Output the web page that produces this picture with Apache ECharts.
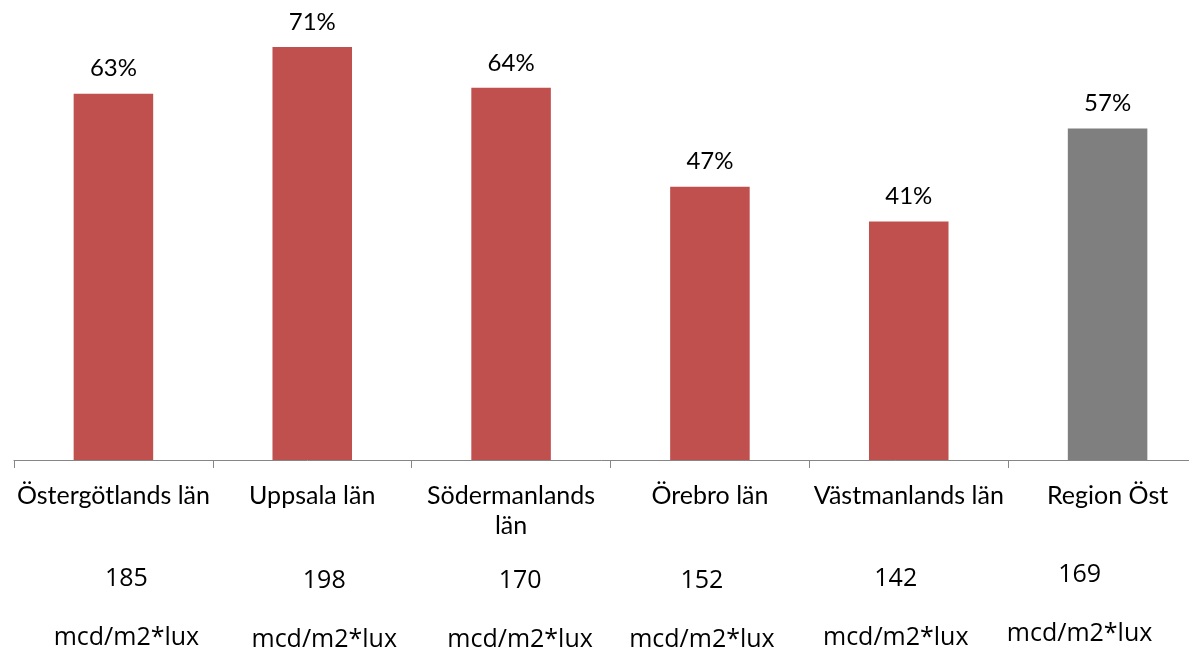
<!DOCTYPE html>
<html>
<head>
    <meta charset="utf-8">
    <title>Andel och luminans per län</title>
    <script src="https://cdn.jsdelivr.net/npm/echarts@6/dist/echarts.min.js"></script>
    <style>
        html, body { margin: 0; padding: 0; background: #fff; }
        #main { width: 1189px; height: 652px; }
    </style>
</head>
<body>
    <div id="main"></div>
    <script type="text/javascript">
        // data
        var categories = ['Östergötlands län', 'Uppsala län', 'Södermanlands\nlän', 'Örebro län', 'Västmanlands län', 'Region Öst'];
        var shares = [63, 71, 64, 47, 41, 57];          // %
        var luminance = [185, 198, 170, 152, 142, 169];  // mcd/m2*lux
        var unitText = 'mcd/m2*lux';

        // layout of the text rows under the axis (free text boxes in the original)
        var rowShiftX = [13, 12, 9, -8, -13, -28];
        var rowShiftY = [0, 2, 2, 2, 0, -4];
        var numberRowY = 579;
        var unitRowY = 638;

        var barColors = ['#C0504D', '#C0504D', '#C0504D', '#C0504D', '#C0504D', '#7F7F7F'];

        var chart = echarts.init(document.getElementById('main'));
        chart.setOption({
            animation: false,
            grid: {
                left: 14, right: -18, top: 0, bottom: 192,
                containLabel: false,
                outerBoundsMode: 'none'
            },
            xAxis: {
                type: 'category',
                data: categories,
                axisLine: { lineStyle: { color: '#868686', width: 1 } },
                axisTick: { show: true, length: 8, lineStyle: { color: '#868686' } },
                axisLabel: {
                    interval: 0,
                    margin: 21,
                    color: '#000',
                    fontFamily: 'Lato',
                    fontSize: 25,
                    lineHeight: 30
                }
            },
            yAxis: {
                type: 'value',
                min: 0,
                max: 79.1,
                show: false,
                splitLine: { show: false }
            },
            series: [{
                type: 'bar',
                barWidth: '40%',
                data: shares.map(function (v, i) {
                    return { value: v, itemStyle: { color: barColors[i] } };
                }),
                label: {
                    show: true,
                    position: 'top',
                    distance: 13,
                    color: '#000',
                    fontFamily: 'Lato',
                    fontSize: 24,
                    formatter: function (p) { return p.value + '%'; }
                }
            }]
        });

        // number + unit rows, placed from the category scale
        var texts = [];
        for (var i = 0; i < categories.length; i++) {
            var cx = chart.convertToPixel({ xAxisIndex: 0 }, i) + rowShiftX[i];
            texts.push({
                type: 'text',
                x: cx, y: numberRowY + rowShiftY[i],
                style: {
                    text: String(luminance[i]), fill: '#000',
                    font: '25px "Open Sans"', align: 'center', verticalAlign: 'middle'
                }
            });
            texts.push({
                type: 'text',
                x: cx, y: unitRowY + rowShiftY[i],
                style: {
                    text: unitText, fill: '#000',
                    font: '25px "Open Sans"', align: 'center', verticalAlign: 'middle'
                }
            });
        }
        chart.setOption({ graphic: texts });
    </script>
</body>
</html>
